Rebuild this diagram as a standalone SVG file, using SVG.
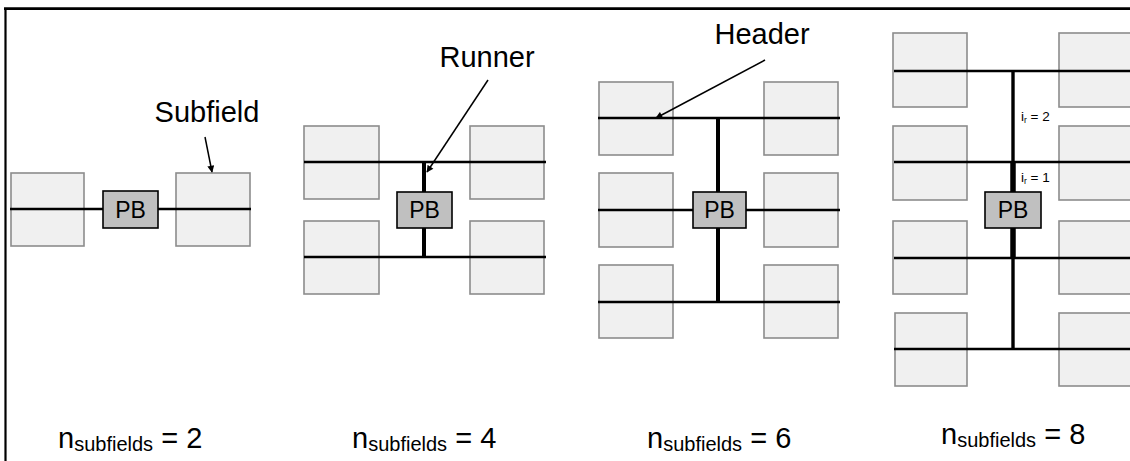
<svg xmlns="http://www.w3.org/2000/svg" width="1130" height="461" viewBox="0 0 1130 461">
  <defs>
    <style>
      .sf { fill: #f0f0f0; stroke: #8c8c8c; stroke-width: 1.6; }
      .pb { fill: #c0c0c0; stroke: #000; stroke-width: 1.6; }
      .pbt { font-family: "Liberation Sans", Arial, sans-serif; font-size: 23px; fill: #000; text-anchor: middle; }
      .hdr { stroke: #000; stroke-width: 2.4; fill: none; }
      .run { stroke: #000; stroke-width: 4; fill: none; }
      .thin { stroke: #000; stroke-width: 3.4; fill: none; }
      .thick { stroke: #000; stroke-width: 5.5; fill: none; }
      .ptr { stroke: #000; stroke-width: 1.5; fill: none; marker-end: url(#ah); }
      .call { font-family: "Liberation Sans", Arial, sans-serif; font-size: 29px; fill: #000; text-anchor: middle; }
      .lbl { font-family: "Liberation Sans", Arial, sans-serif; font-size: 29px; fill: #000; }
      .ir { font-family: "Liberation Sans", Arial, sans-serif; font-size: 13.5px; fill: #000; }
    </style>
    <marker id="ah" viewBox="0 0 10 10" refX="9" refY="5" markerWidth="8" markerHeight="7" orient="auto" markerUnits="userSpaceOnUse">
      <path d="M0,0 L10,5 L0,10 z" fill="#000"/>
    </marker>
  </defs>

  <rect width="1130" height="461" fill="#fff"/>

  <!-- frame edges -->
  <g id="frame">
    <line x1="4" y1="8.7" x2="1130" y2="8.7" stroke="#000" stroke-width="2.7"/>
    <line x1="5.5" y1="8" x2="5.5" y2="461" stroke="#000" stroke-width="2.2"/>
  </g>

  <!-- subfields, 2 -->
  <g id="sf2">
    <rect class="sf" x="11" y="173" width="73" height="73"/>
    <rect class="sf" x="176" y="173" width="74" height="73"/>
  </g>
  <!-- subfields, 4 -->
  <g id="sf4">
    <rect class="sf" x="304" y="126" width="75" height="73"/>
    <rect class="sf" x="470" y="126" width="74" height="73"/>
    <rect class="sf" x="304" y="221" width="75" height="73"/>
    <rect class="sf" x="470" y="221" width="74" height="73"/>
  </g>
  <!-- subfields, 6 -->
  <g id="sf6">
    <rect class="sf" x="599" y="82" width="74" height="73"/>
    <rect class="sf" x="764" y="82" width="74" height="73"/>
    <rect class="sf" x="599" y="173" width="74" height="74"/>
    <rect class="sf" x="764" y="173" width="74" height="74"/>
    <rect class="sf" x="599" y="265" width="74" height="73"/>
    <rect class="sf" x="764" y="265" width="74" height="73"/>
  </g>
  <!-- subfields, 8 -->
  <g id="sf8">
    <rect class="sf" x="893" y="33" width="74" height="74"/>
    <rect class="sf" x="1059" y="33" width="74" height="74"/>
    <rect class="sf" x="893" y="126" width="74" height="74"/>
    <rect class="sf" x="1059" y="126" width="74" height="74"/>
    <rect class="sf" x="893" y="221" width="74" height="73"/>
    <rect class="sf" x="1059" y="221" width="74" height="73"/>
    <rect class="sf" x="895" y="313" width="72" height="73"/>
    <rect class="sf" x="1059" y="313" width="74" height="73"/>
  </g>

  <!-- headers and runners -->
  <g id="connectors">
    <line class="hdr" x1="10" y1="209" x2="251" y2="209"/>

    <line class="hdr" x1="304" y1="162" x2="546" y2="162"/>
    <line class="hdr" x1="304" y1="257" x2="546" y2="257"/>
    <line class="run" x1="424" y1="161" x2="424" y2="258"/>

    <line class="hdr" x1="598" y1="118" x2="840" y2="118"/>
    <line class="hdr" x1="598" y1="210" x2="840" y2="210"/>
    <line class="hdr" x1="598" y1="302" x2="840" y2="302"/>
    <line class="run" x1="718" y1="117" x2="718" y2="303"/>

    <line class="hdr" x1="894" y1="71" x2="1130" y2="71"/>
    <line class="hdr" x1="894" y1="162" x2="1130" y2="162"/>
    <line class="hdr" x1="894" y1="258" x2="1130" y2="258"/>
    <line class="hdr" x1="894" y1="349" x2="1130" y2="349"/>
    <line class="thin" x1="1013" y1="70" x2="1013" y2="162"/>
    <line class="thick" x1="1013" y1="161" x2="1013" y2="193"/>
    <line class="thick" x1="1013" y1="227" x2="1013" y2="259"/>
    <line class="thin" x1="1013" y1="258" x2="1013" y2="350"/>

    <line class="ptr" x1="205" y1="137" x2="212" y2="172"/>
    <line class="ptr" x1="488" y1="80" x2="427" y2="172"/>
    <line class="ptr" x1="765" y1="60" x2="656" y2="118"/>
  </g>

  <!-- pumping blocks -->
  <g id="pb2">
    <rect class="pb" x="103" y="191" width="55" height="37"/>
    <text class="pbt" x="130.5" y="218">PB</text>
  </g>
  <g id="pb4">
    <rect class="pb" x="397" y="192" width="55" height="36"/>
    <text class="pbt" x="424.5" y="218">PB</text>
  </g>
  <g id="pb6">
    <rect class="pb" x="693" y="192" width="53" height="36"/>
    <text class="pbt" x="719.5" y="218">PB</text>
  </g>
  <g id="pb8">
    <rect class="pb" x="985" y="192" width="56" height="36"/>
    <text class="pbt" x="1013" y="218">PB</text>
  </g>

  <!-- callouts -->
  <g id="callouts">
    <text class="call" x="207" y="122">Subfield</text>
    <text class="call" x="487" y="67">Runner</text>
    <text class="call" x="762" y="44">Header</text>
  </g>

  <!-- runner segment indices -->
  <g id="runner-index">
    <text class="ir" x="1021" y="121">i<tspan font-size="8.5" dy="2">r</tspan><tspan dy="-2"> = 2</tspan></text>
    <text class="ir" x="1021" y="182">i<tspan font-size="8.5" dy="2">r</tspan><tspan dy="-2"> = 1</tspan></text>
  </g>

  <!-- case labels -->
  <g id="labels">
    <text class="lbl" x="58" y="448">n<tspan font-size="20" dy="3">subfields</tspan><tspan dy="-3"> = 2</tspan></text>
    <text class="lbl" x="352" y="448">n<tspan font-size="20" dy="3">subfields</tspan><tspan dy="-3"> = 4</tspan></text>
    <text class="lbl" x="647" y="448">n<tspan font-size="20" dy="3">subfields</tspan><tspan dy="-3"> = 6</tspan></text>
    <text class="lbl" x="941" y="444">n<tspan font-size="20" dy="3">subfields</tspan><tspan dy="-3"> = 8</tspan></text>
  </g>
</svg>
